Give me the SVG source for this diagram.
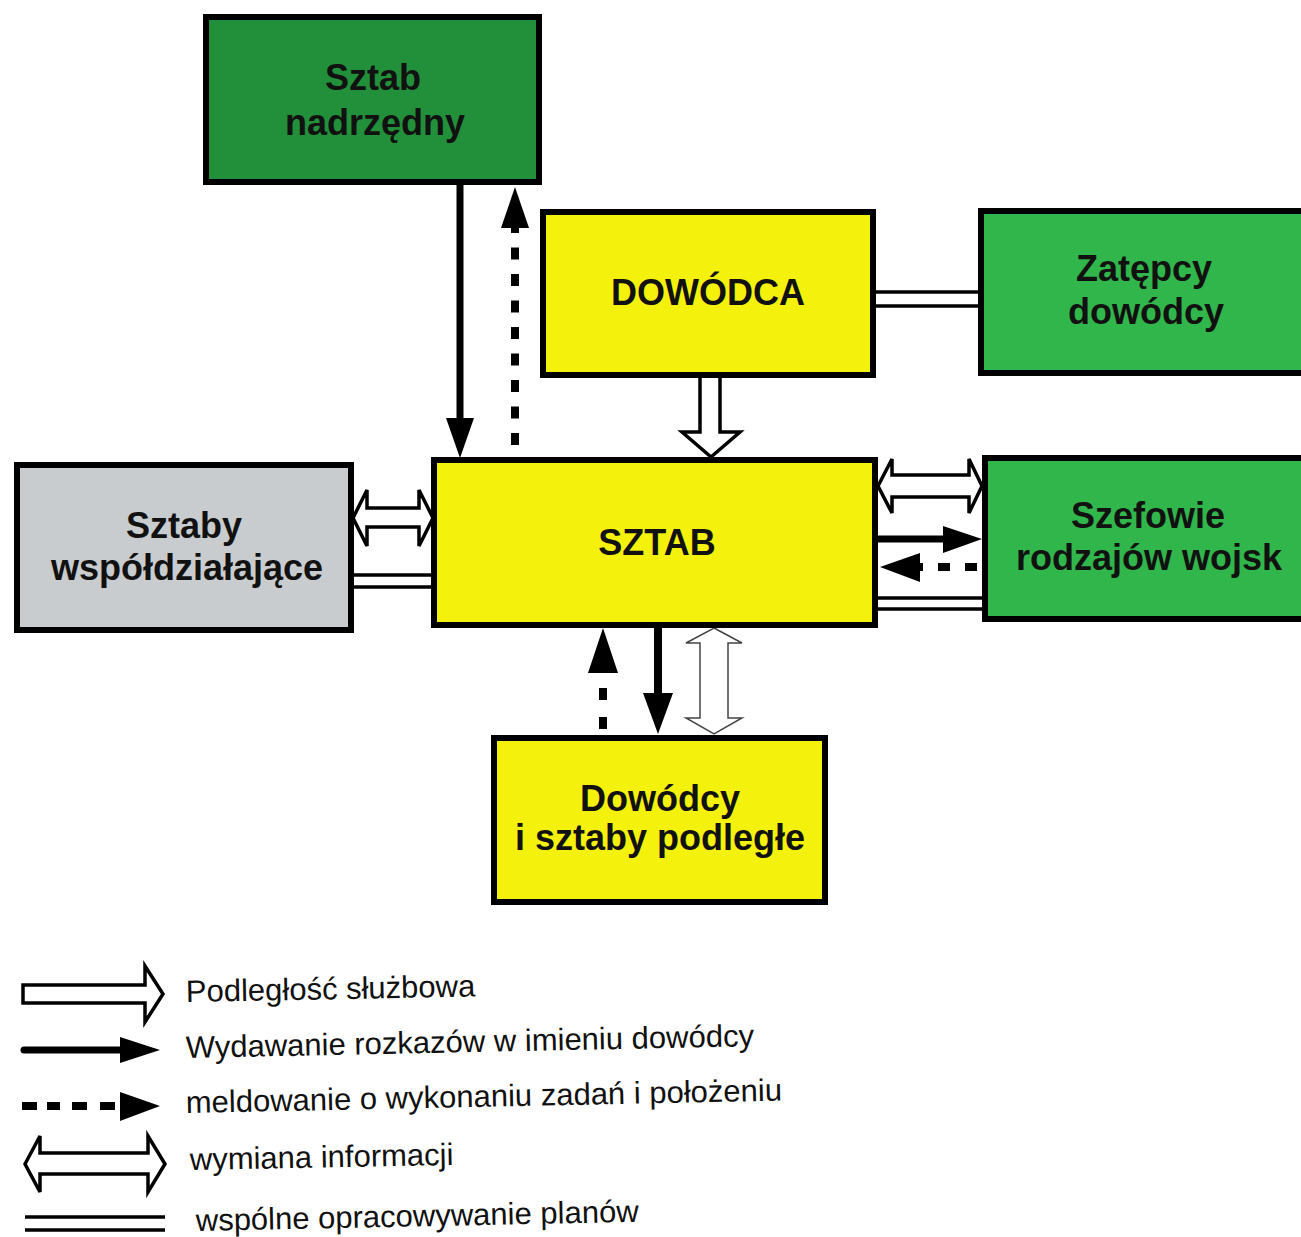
<svg xmlns="http://www.w3.org/2000/svg" width="1301" height="1237" viewBox="0 0 1301 1237">
  <style>
    .box { stroke: #000; stroke-width: 6; }
    .dark { fill: #22903a; }
    .green { fill: #31b64b; }
    .yellow { fill: #f4f20c; }
    .gray { fill: #c9ccce; }
    .label { font-family: "Liberation Sans", Arial, sans-serif; font-weight: bold; font-size: 36px; fill: #111; text-anchor: middle; }
    .legend { font-family: "Liberation Sans", Arial, sans-serif; font-size: 31px; fill: #111; }
    .hollow { fill: #fff; stroke: #000; stroke-width: 3.5; stroke-linejoin: miter; }
    .thin { fill: #fff; stroke: #444; stroke-width: 1.5; }
    .solid { stroke: #000; fill: none; }
    .head { fill: #000; }
    .pair { stroke: #000; stroke-width: 3.5; }
  </style>

  <rect width="1301" height="1237" fill="#fff"/>

  <!-- connectors -->
  <g id="connectors">
    <!-- Sztab nadrzędny -> SZTAB (orders) -->
    <line class="solid" x1="460" y1="185" x2="460" y2="420" stroke-width="7"/>
    <polygon class="head" points="446,418 474,418 460,458"/>
    <!-- SZTAB -> Sztab nadrzędny (reports) -->
    <line class="solid" x1="515" y1="445" x2="515" y2="228" stroke-width="8" stroke-dasharray="12 14.5"/>
    <polygon class="head" points="501,228 529,228 515,187"/>

    <!-- DOWÓDCA -> SZTAB (subordination) -->
    <path class="hollow" stroke-width="4" d="M700,377 L700,432 L682,432 L711,457 L740,432 L720,432 L720,377"/>

    <!-- DOWÓDCA = Zatępcy -->
    <line class="pair" x1="873" y1="292" x2="981" y2="292" stroke-width="4"/>
    <line class="pair" x1="873" y1="306" x2="981" y2="306" stroke-width="4"/>

    <!-- Sztaby współdziałające <-> SZTAB -->
    <path class="hollow" d="M353,518 L367,490 L367,508 L419,508 L419,490 L433,518 L419,546 L419,527 L367,527 L367,546 Z"/>
    <line class="pair" x1="351" y1="575" x2="434" y2="575"/>
    <line class="pair" x1="351" y1="587" x2="434" y2="587"/>

    <!-- SZTAB <-> Szefowie -->
    <path class="hollow" d="M878,486 L892,459 L892,475 L969,475 L969,459 L982,486 L969,513 L969,497 L892,497 L892,513 Z"/>
    <line class="solid" x1="877" y1="539" x2="945" y2="539" stroke-width="7"/>
    <polygon class="head" points="943,526 943,553 982,539"/>
    <line class="solid" x1="977" y1="567" x2="918" y2="567" stroke-width="8" stroke-dasharray="12 15"/>
    <polygon class="head" points="880,567 920,553 920,582"/>
    <line class="pair" x1="875" y1="598" x2="985" y2="598"/>
    <line class="pair" x1="875" y1="609" x2="985" y2="609"/>

    <!-- SZTAB <-> Dowódcy i sztaby podległe -->
    <line class="solid" x1="603" y1="729" x2="603" y2="672" stroke-width="8" stroke-dasharray="12 17"/>
    <polygon class="head" points="588,673 618,673 603,628"/>
    <line class="solid" x1="658" y1="627" x2="658" y2="695" stroke-width="8"/>
    <polygon class="head" points="643,693 673,693 658,734"/>
    <path class="thin" d="M714,628 L742,643 L728,643 L728,718 L742,718 L714,734 L686,718 L700,718 L700,643 L686,643 Z"/>
  </g>

  <!-- nodes -->
  <g id="sztab-nadrzedny">
    <rect class="box dark" x="206" y="17" width="333" height="165"/>
    <text class="label" x="373" y="90">Sztab</text>
    <text class="label" x="375" y="135">nadrzędny</text>
  </g>

  <g id="dowodca">
    <rect class="box yellow" x="543" y="212" width="330" height="163"/>
    <text class="label" x="708" y="305">DOWÓDCA</text>
  </g>

  <g id="zastepcy">
    <rect class="box green" x="981" y="211" width="340" height="162"/>
    <text class="label" x="1144" y="281">Zatępcy</text>
    <text class="label" x="1146" y="324">dowódcy</text>
  </g>

  <g id="sztab">
    <rect class="box yellow" x="434" y="460" width="441" height="165"/>
    <text class="label" x="657" y="555">SZTAB</text>
  </g>

  <g id="sztaby-wspoldzialajace">
    <rect class="box gray" x="17" y="465" width="334" height="165"/>
    <text class="label" x="184" y="538">Sztaby</text>
    <text class="label" x="187" y="580">współdziałające</text>
  </g>

  <g id="szefowie">
    <rect class="box green" x="985" y="458" width="340" height="161"/>
    <text class="label" x="1148" y="528">Szefowie</text>
    <text class="label" x="1149" y="570">rodzajów wojsk</text>
  </g>

  <g id="dowodcy-podlegli">
    <rect class="box yellow" x="494" y="738" width="331" height="164"/>
    <text class="label" x="660" y="811">Dowódcy</text>
    <text class="label" x="660" y="850">i sztaby podległe</text>
  </g>

  <!-- key -->
  <g id="legend">
    <path class="hollow" d="M23,985 L145,985 L145,966 L163,994 L145,1022 L145,1003 L23,1003 Z"/>
    <text class="legend" x="186" y="1002" transform="rotate(-1.1 186 1002)">Podległość służbowa</text>

    <line class="solid" x1="24" y1="1050" x2="122" y2="1050" stroke-width="7" stroke-linecap="round"/>
    <polygon class="head" points="120,1037 120,1063 160,1050"/>
    <text class="legend" x="186" y="1058" transform="rotate(-1.2 186 1058)">Wydawanie rozkazów w imieniu dowódcy</text>

    <line class="solid" x1="22" y1="1106" x2="120" y2="1106" stroke-width="8" stroke-dasharray="15 10 13 12 15 13 15 100"/>
    <polygon class="head" points="120,1092 120,1121 160,1106"/>
    <text class="legend" x="186" y="1113" transform="rotate(-1.2 186 1113)">meldowanie o wykonaniu zadań i położeniu</text>

    <path class="hollow" d="M25,1164 L40,1136 L40,1153 L148,1153 L148,1136 L165,1164 L148,1192 L148,1174 L40,1174 L40,1192 Z"/>
    <text class="legend" x="190" y="1170" transform="rotate(-1.1 190 1170)">wymiana informacji</text>

    <line class="pair" x1="25" y1="1217" x2="165" y2="1217"/>
    <line class="pair" x1="25" y1="1230" x2="165" y2="1230"/>
    <text class="legend" x="196" y="1231" transform="rotate(-1.2 196 1231)">wspólne opracowywanie planów</text>
  </g>
</svg>
